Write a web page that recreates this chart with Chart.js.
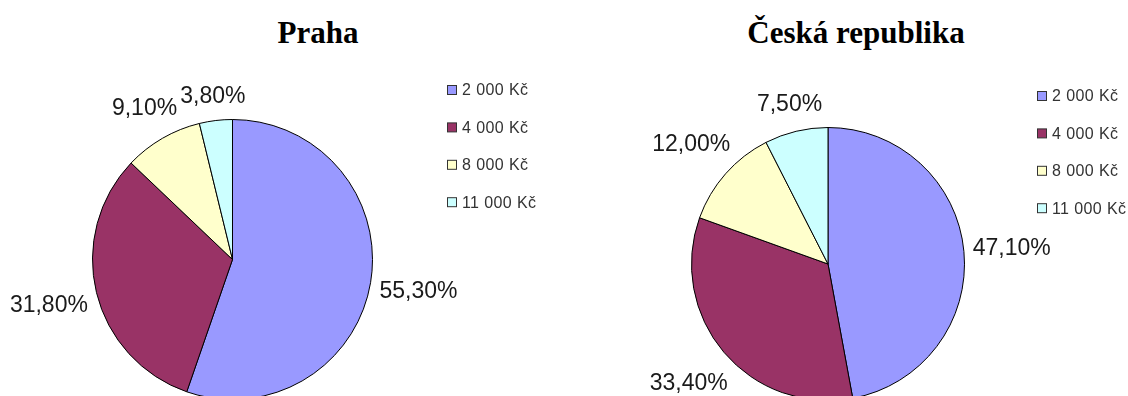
<!DOCTYPE html>
<html>
<head>
<meta charset="utf-8">
<script src="https://cdn.jsdelivr.net/npm/chart.js@4"></script>
<style>
    html, body { margin: 0; padding: 0; background: #fff; overflow: hidden; width: 1128px; height: 396px; }
    canvas { position: absolute; top: 0; }
    .title { position: absolute; top: 17px; font-family: "Liberation Serif", "Times New Roman", serif; font-weight: bold; font-size: 31px; line-height: 31px; text-align: center; color: #000; }
</style>
</head>
<body>
<div class="title" style="left:218px;width:200px;">Praha</div>
<div class="title" style="left:706px;width:300px;">Česká republika</div>
<canvas id="chartPraha" width="564" height="420" style="left:0px"></canvas>
<canvas id="chartCR" width="564" height="420" style="left:564px"></canvas>
<script>
// categories and values (percent)
const categories = ["2 000 Kč", "4 000 Kč", "8 000 Kč", "11 000 Kč"];
const prahaValues = [55.3, 31.8, 9.1, 3.8];
const crValues = [47.1, 33.4, 12.0, 7.5];
const sliceColors = ["#9999FF", "#993366", "#FFFFCC", "#CCFFFF"];

function fmtPct(v) {
    return v.toFixed(2).replace('.', ',') + '%';
}

// percent labels outside each slice
const outsideLabels = {
    id: 'outsideLabels',
    afterDatasetsDraw(chart) {
        const ctx = chart.ctx;
        const meta = chart.getDatasetMeta(0);
        const values = chart.data.datasets[0].data;
        ctx.save();
        ctx.font = '23px "Liberation Sans", Arial, sans-serif';
        ctx.fillStyle = '#1a1a1a';
        ctx.textAlign = 'center';
        ctx.textBaseline = 'middle';
        meta.data.forEach((arc, i) => {
            const p = arc.getProps(['x', 'y', 'startAngle', 'endAngle', 'outerRadius'], true);
            const mid = (p.startAngle + p.endAngle) / 2;
            const c = Math.cos(mid), s = Math.sin(mid);
            const txt = fmtPct(values[i]);
            const w = ctx.measureText(txt).width;
            const h = 26;
            const d = 8 + Math.abs(c) * w / 2 + Math.abs(s) * h / 2;
            const tx = p.x + (p.outerRadius + d) * c;
            const ty = p.y + (p.outerRadius + d) * s;
            ctx.fillText(txt, tx, ty + 1);
        });
        ctx.restore();
    }
};

// Excel style legend on the right
const sideLegend = {
    id: 'sideLegend',
    afterDraw(chart, args, opts) {
        const ctx = chart.ctx;
        ctx.save();
        ctx.font = '16px "Liberation Sans", Arial, sans-serif';
        ctx.letterSpacing = '0.4px';
        ctx.textAlign = 'left';
        ctx.textBaseline = 'middle';
        chart.data.labels.forEach((lab, i) => {
            const y = opts.y + i * opts.step;
            ctx.fillStyle = sliceColors[i];
            ctx.fillRect(opts.x + 0.5, y - 4.5, 9, 9);
            ctx.strokeStyle = '#333';
            ctx.lineWidth = 1;
            ctx.strokeRect(opts.x + 0.5, y - 4.5, 9, 9);
            ctx.fillStyle = '#333';
            ctx.fillText(lab, opts.x + 15, y + 1);
        });
        ctx.restore();
    }
};

function makePie(id, values, padding, legendPos) {
    return new Chart(document.getElementById(id), {
        type: 'pie',
        data: {
            labels: categories,
            datasets: [{
                data: values,
                backgroundColor: sliceColors,
                borderColor: '#000',
                borderWidth: 1
            }]
        },
        options: {
            responsive: false,
            animation: false,
            layout: { padding: padding },
            plugins: {
                legend: { display: false },
                tooltip: { enabled: false },
                sideLegend: legendPos
            }
        },
        plugins: [outsideLabels, sideLegend]
    });
}

makePie('chartPraha', prahaValues,
    { left: 92, top: 119, right: 191, bottom: 20 },
    { x: 447, y: 90, step: 37.4 });

makePie('chartCR', crValues,
    { left: 127, top: 127, right: 163, bottom: 19 },
    { x: 473, y: 96, step: 37.4 });
</script>
</body>
</html>
